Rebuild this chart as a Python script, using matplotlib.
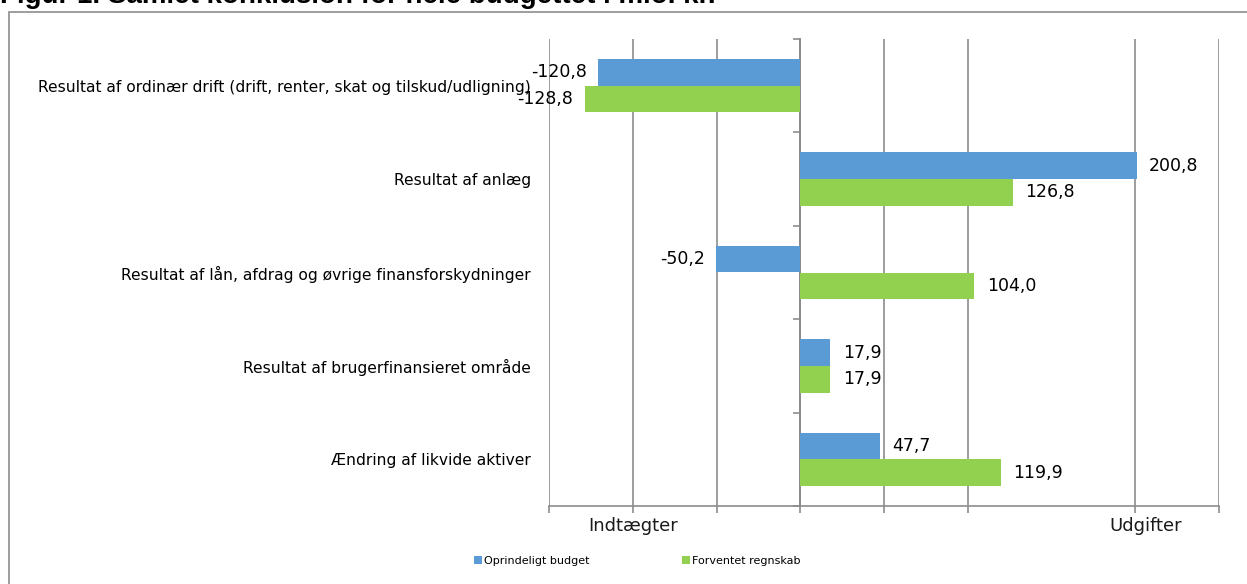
import matplotlib
matplotlib.use("Agg")
import matplotlib.pyplot as plt
from matplotlib.patches import Rectangle
from matplotlib.transforms import ScaledTranslation
import numpy as np

# Data (mio. kr.)
categories = [
    "Resultat af ordinær drift (drift, renter, skat og tilskud/udligning)",
    "Resultat af anlæg",
    "Resultat af lån, afdrag og øvrige finansforskydninger",
    "Resultat af brugerfinansieret område",
    "Ændring af likvide aktiver",
]
oprindeligt_budget = [-120.8, 200.8, -50.2, 17.9, 47.7]
forventet_regnskab = [-128.8, 126.8, 104.0, 17.9, 119.9]
series_names = ["Oprindeligt budget", "Forventet regnskab"]
x_ticks = [-150, -100, -50, 0, 50, 100, 200, 250]
x_ticklabels = ["", "Indtægter", "", "", "", "", "Udgifter", ""]

blue = "#5B9BD5"
green = "#92D050"
gray = "#8c8c8c"

plt.rcParams["font.family"] = ["DejaVu Sans"]

fig = plt.figure(figsize=(12.47, 5.84), dpi=100)
ax = fig.add_axes([549 / 1247, 1 - 506 / 584, (1219 - 549) / 1247, (506 - 39) / 584])

y = np.arange(len(categories))
h = 0.285
b1 = ax.barh(y - h / 2, oprindeligt_budget, height=h, color=blue, label=series_names[0])
b2 = ax.barh(y + h / 2, forventet_regnskab, height=h, color=green, label=series_names[1])

# value labels with comma as decimal separator
for bars, vals in [(b1, oprindeligt_budget), (b2, forventet_regnskab)]:
    for bar, v in zip(bars, vals):
        txt = f"{v:.1f}".replace(".", ",")
        yc = bar.get_y() + bar.get_height() / 2
        if v < 0:
            ax.annotate(txt, (v, yc), xytext=(-8, 0), textcoords="offset points",
                        ha="right", va="center", fontsize=12.5, color="black")
        else:
            ax.annotate(txt, (v, yc), xytext=(9, 0), textcoords="offset points",
                        ha="left", va="center", fontsize=12.5, color="black")

ax.set_xlim(-150, 250)
ax.set_ylim(len(categories) - 0.5, -0.5)

ax.set_xticks(x_ticks)
ax.set_xticklabels(x_ticklabels, fontsize=13, color="#1a1a1a")
ax.tick_params(axis="x", length=5, color=gray, width=1.2, pad=3)
ax.grid(axis="x", color=gray, linewidth=1.2)
ax.set_axisbelow(True)
# "Udgifter" sits a little right of its gridline in the original
udg = ax.get_xticklabels()[6]
udg.set_transform(udg.get_transform() + ScaledTranslation(10 / 100, 0, fig.dpi_scale_trans))

# category labels on the left
ax.set_yticks(y)
ax.set_yticklabels(categories, fontsize=11.2, color="black")
ax.tick_params(axis="y", length=0, pad=13)

for s in ["top", "right", "left"]:
    ax.spines[s].set_visible(False)
ax.spines["bottom"].set_color(gray)
ax.spines["bottom"].set_linewidth(1.2)

# value axis at zero with category boundary ticks
zero_pos = (0 - ax.get_xlim()[0]) / (ax.get_xlim()[1] - ax.get_xlim()[0])
sec = ax.secondary_yaxis(zero_pos)
sec.set_yticks(np.arange(len(categories) + 1) - 0.5)
sec.set_yticklabels([])
sec.tick_params(length=5, color=gray, width=1.2)
sec.spines["left"].set_color(gray)
sec.spines["left"].set_linewidth(1.4)

fig.legend(loc="center", bbox_to_anchor=(0.511, 0.039), ncol=2, frameon=False,
           fontsize=8, handlelength=0.7, handleheight=0.7, handletextpad=0.2,
           columnspacing=8.3)

# outer chart frame
fig.patches.append(Rectangle((9 / 1247, -0.05), 1.2, 1.05 - 12 / 584,
                             transform=fig.transFigure, fill=False,
                             edgecolor=gray, linewidth=1.2))

# title, cut off at the top edge
fig.text(0.0, 1 - 3 / 584, "Figur 1. Samlet konklusion for hele budgettet i mio. kr.",
         fontsize=20, fontweight="bold", family="Liberation Sans", va="baseline", ha="left")

fig.savefig("out.png", dpi=100)
